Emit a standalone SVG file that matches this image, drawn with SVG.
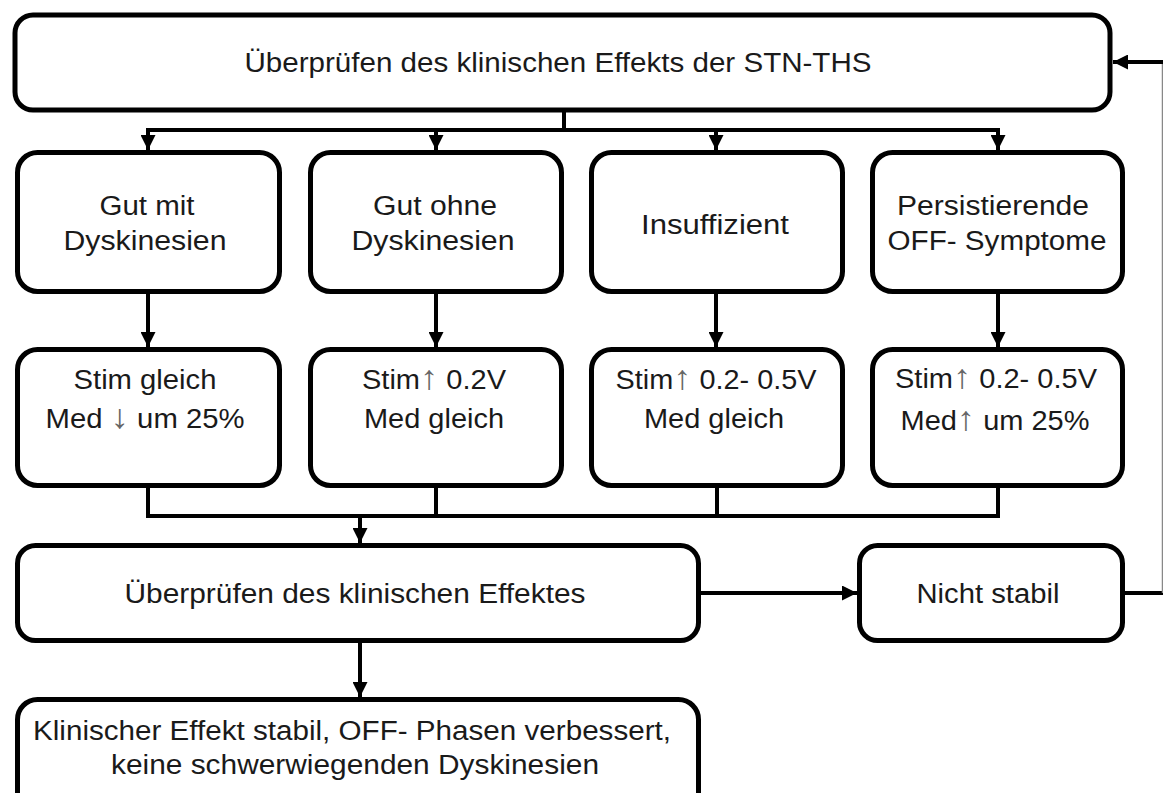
<svg xmlns="http://www.w3.org/2000/svg" width="1163" height="793" viewBox="0 0 1163 793">
<defs>
<style>
.box{fill:#fff;stroke:#000;stroke-width:5}
.t{font-family:"Liberation Sans",Arial,"DejaVu Sans",sans-serif;font-size:27px;fill:#1a1a1a;text-anchor:middle}
.ar{fill:#666;font-size:34px}
.ln{fill:none;stroke:#000;stroke-width:4}
</style>
<marker id="ah" viewBox="0 0 10 10" refX="10" refY="5" markerWidth="15" markerHeight="15" markerUnits="userSpaceOnUse" orient="auto">
<path d="M0,0 L10,5 L0,10 z" fill="#000"/>
</marker>
</defs>
<rect width="1163" height="793" fill="#fff"/>

<g id="connectors">
<path class="ln" d="M564,112 V130 M146,130 H1000"/>
<path class="ln" d="M148,130 V150" marker-end="url(#ah)"/>
<path class="ln" d="M436,130 V150" marker-end="url(#ah)"/>
<path class="ln" d="M716,130 V150" marker-end="url(#ah)"/>
<path class="ln" d="M998,130 V150" marker-end="url(#ah)"/>
<path class="ln" d="M148,294 V347" marker-end="url(#ah)"/>
<path class="ln" d="M436,294 V347" marker-end="url(#ah)"/>
<path class="ln" d="M716,294 V347" marker-end="url(#ah)"/>
<path class="ln" d="M998,294 V347" marker-end="url(#ah)"/>
<path class="ln" d="M148,488 V516 H998 V488 M436,488 V516 M717,488 V516"/>
<path class="ln" d="M360,516 V543" marker-end="url(#ah)"/>
<path class="ln" d="M701,593 H857" marker-end="url(#ah)"/>
<path class="ln" d="M360,643 V697" marker-end="url(#ah)"/>
<path class="ln" d="M1125,593 H1163"/>
<path d="M1163,593 V62" fill="none" stroke="#888" stroke-width="2.5"/>
<path class="ln" d="M1163,62 H1113" marker-end="url(#ah)"/>
</g>

<g id="n_top">
<rect class="box" x="15" y="15" width="1095" height="95" rx="18"/>
<text class="t" x="558" y="72" textLength="627" lengthAdjust="spacingAndGlyphs">Überprüfen des klinischen Effekts der STN-THS</text>
</g>

<g id="n_gutmit">
<rect class="box" x="17.5" y="152.5" width="262" height="139" rx="20"/>
<text class="t" x="147" y="215" textLength="95" lengthAdjust="spacingAndGlyphs">Gut mit</text>
<text class="t" x="145" y="250" textLength="163" lengthAdjust="spacingAndGlyphs">Dyskinesien</text>
</g>
<g id="n_gutohne">
<rect class="box" x="310.5" y="152.5" width="251" height="139" rx="20"/>
<text class="t" x="435" y="215" textLength="124" lengthAdjust="spacingAndGlyphs">Gut ohne</text>
<text class="t" x="433" y="250" textLength="163" lengthAdjust="spacingAndGlyphs">Dyskinesien</text>
</g>
<g id="n_insuff">
<rect class="box" x="591.5" y="152.5" width="251" height="139" rx="20"/>
<text class="t" x="715" y="234" textLength="148" lengthAdjust="spacingAndGlyphs">Insuffizient</text>
</g>
<g id="n_persist">
<rect class="box" x="872.5" y="152.5" width="250" height="139" rx="20"/>
<text class="t" x="993" y="215" textLength="192" lengthAdjust="spacingAndGlyphs">Persistierende</text>
<text class="t" x="997" y="250" textLength="219" lengthAdjust="spacingAndGlyphs">OFF- Symptome</text>
</g>

<g id="n_r2a">
<rect class="box" x="17.5" y="349.5" width="262" height="136" rx="20"/>
<text class="t" x="145" y="389" textLength="143" lengthAdjust="spacingAndGlyphs">Stim gleich</text>
<text class="t" x="145" y="428" textLength="199" lengthAdjust="spacingAndGlyphs">Med <tspan class="ar">↓</tspan> um 25%</text>
</g>
<g id="n_r2b">
<rect class="box" x="310.5" y="349.5" width="251" height="136" rx="20"/>
<text class="t" x="434" y="389" textLength="144" lengthAdjust="spacingAndGlyphs">Stim<tspan class="ar">↑</tspan> 0.2V</text>
<text class="t" x="434" y="428" textLength="140" lengthAdjust="spacingAndGlyphs">Med gleich</text>
</g>
<g id="n_r2c">
<rect class="box" x="591.5" y="349.5" width="251" height="136" rx="20"/>
<text class="t" x="716" y="389" textLength="201" lengthAdjust="spacingAndGlyphs">Stim<tspan class="ar">↑</tspan> 0.2- 0.5V</text>
<text class="t" x="714" y="428" textLength="140" lengthAdjust="spacingAndGlyphs">Med gleich</text>
</g>
<g id="n_r2d">
<rect class="box" x="872.5" y="349.5" width="250" height="136" rx="20"/>
<text class="t" x="996" y="388" textLength="202" lengthAdjust="spacingAndGlyphs">Stim<tspan class="ar">↑</tspan> 0.2- 0.5V</text>
<text class="t" x="995" y="430" textLength="189" lengthAdjust="spacingAndGlyphs">Med<tspan class="ar">↑</tspan> um 25%</text>
</g>

<g id="n_check">
<rect class="box" x="17.5" y="545.5" width="681" height="95" rx="18"/>
<text class="t" x="355" y="603" textLength="461" lengthAdjust="spacingAndGlyphs">Überprüfen des klinischen Effektes</text>
</g>
<g id="n_nichtstabil">
<rect class="box" x="859.5" y="545.5" width="263" height="95" rx="18"/>
<text class="t" x="988" y="603" textLength="143" lengthAdjust="spacingAndGlyphs">Nicht stabil</text>
</g>

<g id="n_stable">
<rect class="box" x="17.5" y="699.5" width="681" height="130" rx="20"/>
<text class="t" x="352" y="740" textLength="638" lengthAdjust="spacingAndGlyphs">Klinischer Effekt stabil, OFF- Phasen verbessert,</text>
<text class="t" x="355" y="774" textLength="488" lengthAdjust="spacingAndGlyphs">keine schwerwiegenden Dyskinesien</text>
</g>
</svg>
